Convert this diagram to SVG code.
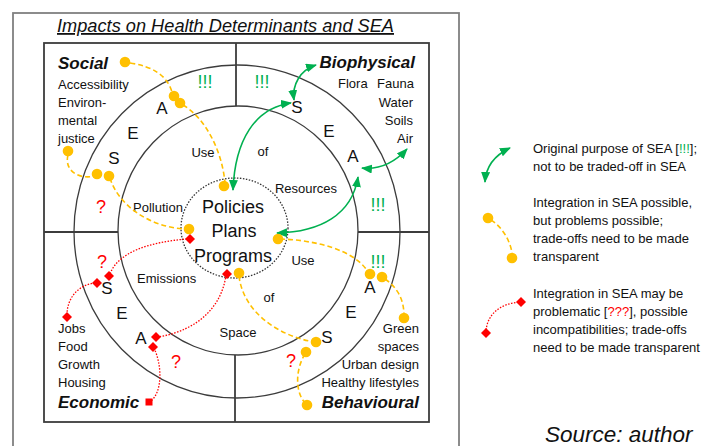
<svg xmlns="http://www.w3.org/2000/svg" xmlns:xlink="http://www.w3.org/1999/xlink" width="707" height="446" viewBox="0 0 707 446">
<style>
text{font-family:"Liberation Sans",Arial,sans-serif;fill:#111}
.t13{font-size:13px}
.big{font-size:17px}
.ctr{font-size:18px;text-anchor:middle}
.hdr{font-size:17px;font-weight:bold;font-style:italic}
.mid{text-anchor:middle}
.end{text-anchor:end}
.ex{font-size:18px;fill:#00b050;text-anchor:middle}
.q{font-size:18px;fill:#ff0000;text-anchor:middle}
.ring{fill:none;stroke:#3c3c3c;stroke-width:1.3}
.sq{fill:none;stroke:#3c3c3c;stroke-width:1.8}
.yl{fill:none;stroke:#ffc000;stroke-width:1.6;stroke-dasharray:5 3}
.rd{fill:none;stroke:#ff0000;stroke-width:1.3;stroke-dasharray:1.5 1.5}
.gr{fill:none;stroke:#00b050;stroke-width:1.6;marker-start:url(#ga);marker-end:url(#ga)}
.dot{fill:#ffc000}
.dia{fill:#ff0000}
</style>
<defs>
<marker id="ga" markerUnits="userSpaceOnUse" markerWidth="12" markerHeight="10" refX="10" refY="4.5" orient="auto-start-reverse">
<path d="M0,0 L11,4.5 L0,9 z" fill="#00b050"/>
</marker>
<path id="dm" d="M0,-5 L5,0 L0,5 L-5,0 Z"/>
<circle id="yd" r="5.3"/>
</defs>
<rect x="0" y="0" width="707" height="446" fill="#ffffff"/>

<g id="frame">
<rect x="13" y="13" width="446" height="460" fill="none" stroke="#808080" stroke-width="1.8"/>
<text x="57" y="32" font-size="18" font-style="italic" text-decoration="underline" textLength="337" lengthAdjust="spacingAndGlyphs">Impacts on Health Determinants and SEA</text>
</g>

<g id="rings">
<rect class="sq" x="44" y="43" width="385" height="379"/>
<line class="sq" x1="236" y1="43" x2="236" y2="106"/>
<line class="sq" x1="235" y1="355" x2="235" y2="422"/>
<line class="sq" x1="44" y1="232" x2="118" y2="232"/>
<line class="sq" x1="358" y1="232" x2="429" y2="232"/>
<ellipse class="ring" cx="237" cy="231.5" rx="163" ry="166.5"/>
<ellipse class="ring" cx="238" cy="230.5" rx="120" ry="124.5"/>
<text class="big mid" x="162" y="114">A</text>
<text class="big mid" x="133" y="139">E</text>
<text class="big mid" x="114" y="164">S</text>
<text class="big mid" x="297" y="113">S</text>
<text class="big mid" x="329" y="137">E</text>
<text class="big mid" x="353" y="162">A</text>
<text class="big mid" x="107" y="294">S</text>
<text class="big mid" x="122" y="319">E</text>
<text class="big mid" x="141" y="344">A</text>
<text class="big mid" x="370" y="293">A</text>
<text class="big mid" x="351" y="318">E</text>
<text class="big mid" x="327" y="343">S</text>
<text class="t13 mid" x="203" y="157">Use</text>
<text class="t13 mid" x="263" y="156">of</text>
<text class="t13 mid" x="306" y="193">Resources</text>
<text class="t13" x="133" y="212">Pollution</text>
<text class="t13" x="137" y="283">Emissions</text>
<text class="t13 mid" x="238" y="337">Space</text>
<text class="t13 mid" x="269" y="302">of</text>
<text class="t13 mid" x="303" y="265">Use</text>
<text class="ex" x="205" y="88">!!!</text>
<text class="ex" x="262" y="88">!!!</text>
<text class="ex" x="378" y="211">!!!</text>
<text class="ex" x="378" y="268">!!!</text>
<text class="q" x="101" y="213">?</text>
<text class="q" x="102" y="268">?</text>
<text class="q" x="176" y="368">?</text>
<text class="q" x="291" y="367">?</text>
</g>

<g id="social">
<text class="hdr" x="58" y="69">Social</text>
<text class="t13" x="58" y="89">Accessibility</text>
<text class="t13" x="58" y="107">Environ-</text>
<text class="t13" x="58" y="125">mental</text>
<text class="t13" x="58" y="143">justice</text>
</g>

<g id="biophysical">
<text class="hdr end" x="415" y="68">Biophysical</text>
<text class="t13" y="88"><tspan x="338">Flora</tspan> <tspan x="377">Fauna</tspan></text>
<text class="t13 end" x="413" y="107">Water</text>
<text class="t13 end" x="413" y="125">Soils</text>
<text class="t13 end" x="413" y="143">Air</text>
</g>

<g id="economic">
<text class="t13" x="58" y="333">Jobs</text>
<text class="t13" x="58" y="351">Food</text>
<text class="t13" x="58" y="369">Growth</text>
<text class="t13" x="58" y="387">Housing</text>
<text class="hdr" x="58" y="408">Economic</text>
</g>

<g id="behavioural">
<text class="t13 end" x="419" y="333">Green</text>
<text class="t13 end" x="419" y="351">spaces</text>
<text class="t13 end" x="419" y="369">Urban design</text>
<text class="t13 end" x="419" y="387">Healthy lifestyles</text>
<text class="hdr end" x="419" y="408">Behavioural</text>
</g>

<g id="center">
<ellipse cx="234.5" cy="228" rx="53.5" ry="50" fill="none" stroke="#333" stroke-width="1.3" stroke-dasharray="1.5 1.5"/>
<text class="ctr" x="233" y="213">Policies</text>
<text class="ctr" x="234" y="237">Plans</text>
<text class="ctr" x="233" y="262">Programs</text>
</g>

<g id="connectors">
<path class="yl" d="M130,63 Q165,68 172,92"/>
<path class="yl" d="M183,105 C205,118 222,150 225,183"/>
<path class="yl" d="M68,155 C64,170 78,180 95,176"/>
<path class="yl" d="M110,178 C118,205 150,228 187,229"/>
<path class="yl" d="M280,239 C315,240 355,250 368,272"/>
<path class="yl" d="M385,279 C398,288 404,300 404,316"/>
<path class="yl" d="M239,276 C243,310 275,335 314,342"/>
<path class="yl" d="M305,354 C296,368 294,392 306,404"/>
<path class="rd" d="M187,239 C150,242 118,252 110,274"/>
<path class="rd" d="M95,283 C78,285 67,298 67,315"/>
<path class="rd" d="M226,275 C222,305 200,330 158,337"/>
<path class="rd" d="M154,348 C162,365 163,392 150,402"/>
<path class="gr" d="M294,100 C292,85 300,70 316,65"/>
<path class="gr" d="M233,190 C235,140 255,108 291,103"/>
<path class="gr" d="M362,168 C380,170 395,162 407,149"/>
<path class="gr" d="M358,177 C352,215 320,232 277,233"/>
<g class="dot">
<use href="#yd" x="125" y="62"/><use href="#yd" x="174" y="96"/><use href="#yd" x="180" y="103"/>
<use href="#yd" x="68" y="151"/><use href="#yd" x="97" y="174"/><use href="#yd" x="109" y="176"/>
<use href="#yd" x="224" y="186"/><use href="#yd" x="189" y="229"/><use href="#yd" x="278" y="239"/>
<use href="#yd" x="239" y="273"/><use href="#yd" x="370" y="274"/><use href="#yd" x="382" y="277"/>
<use href="#yd" x="404" y="318"/><use href="#yd" x="316" y="342"/><use href="#yd" x="306" y="352"/>
<use href="#yd" x="307" y="405"/>
</g>
<g class="dia">
<use href="#dm" x="190" y="239"/><use href="#dm" x="109" y="276"/><use href="#dm" x="97" y="283"/>
<use href="#dm" x="67" y="317"/><use href="#dm" x="156" y="337"/><use href="#dm" x="153" y="347"/>
<use href="#dm" x="227" y="274"/>
<rect x="145.5" y="398.5" width="7" height="7"/>
</g>
</g>

<g id="legend-green">
<path class="gr" d="M510,148 C495,155 486,165 485,182"/>
<text class="t13" x="533" y="153">Original purpose of SEA [<tspan fill="#00b050">!!!</tspan>];</text>
<text class="t13" x="533" y="171">not to be traded-off in SEA</text>
</g>

<g id="legend-yellow">
<path class="yl" d="M491,220 C502,227 510,240 512,253"/>
<use href="#yd" x="488" y="218" class="dot"/>
<use href="#yd" x="512" y="258" class="dot"/>
<text class="t13" x="533" y="207">Integration in SEA possible,</text>
<text class="t13" x="533" y="225">but problems possible;</text>
<text class="t13" x="533" y="243">trade-offs need to be made</text>
<text class="t13" x="533" y="261">transparent</text>
</g>

<g id="legend-red">
<path class="rd" d="M486,333 C486,315 500,303 521,302"/>
<use href="#dm" x="521" y="302" class="dia"/>
<use href="#dm" x="486" y="333" class="dia"/>
<text class="t13" x="533" y="298">Integration in SEA may be</text>
<text class="t13" x="533" y="316">problematic [<tspan fill="#ff0000">???</tspan>], possible</text>
<text class="t13" x="533" y="334">incompatibilities; trade-offs</text>
<text class="t13" x="533" y="352">need to be made transparent</text>
</g>

<g id="source">
<text x="545" y="442" font-size="22.5" font-style="italic">Source: author</text>
</g>
</svg>
